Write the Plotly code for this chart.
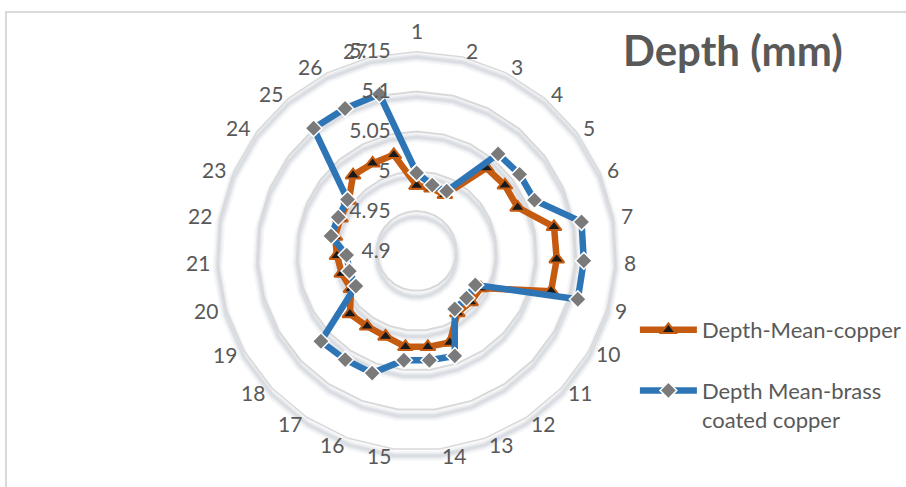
import math
import plotly.graph_objects as go

categories = [str(i) for i in range(1, 28)]
copper = [4.982, 4.981, 4.979, 5.036, 5.038, 5.038, 5.075, 5.076, 5.076,
          4.993, 4.993, 4.993, 5.022, 5.021, 5.021, 5.014, 5.013, 5.015,
          4.995, 4.998, 5.000, 5.004, 5.004, 5.006, 5.024, 5.023, 5.024]
brass = [4.998, 4.985, 4.984, 5.059, 5.061, 5.061, 5.110, 5.110, 5.111,
         4.985, 4.986, 4.987, 5.040, 5.038, 5.038, 5.063, 5.063, 5.065,
         4.988, 4.988, 4.988, 5.009, 5.007, 5.008, 5.101, 5.100, 5.102]
radial_ticks = [4.9, 4.95, 5.0, 5.05, 5.1, 5.15]
radial_text = ["4.9", "4.95", "5", "5.05", "5.1", "5.15"]
r_min, r_max = 4.9, 5.15

W, H = 906, 487
cx, cy, R = 418, 251, 200
LAB_R = 206  # distance of category-label anchor from the centre

ORANGE = "#C55A11"
BLUE = "#2E75B6"
GREY = "#595959"
FONT = "Lato"

fig = go.Figure()
fig.add_trace(go.Scatterpolar(
    r=copper + copper[:1], theta=categories + categories[:1],
    mode="lines+markers", name="Depth-Mean-copper", legendgroup="a",
    line=dict(color=ORANGE, width=6.5),
    marker=dict(symbol="triangle-up", size=13, color="#1a1a1a",
                line=dict(color=ORANGE, width=2)),
))
fig.add_trace(go.Scatterpolar(
    r=brass + brass[:1], theta=categories + categories[:1],
    mode="lines+markers", name="Depth Mean-brass<br>coated copper",
    legendgroup="b",
    line=dict(color=BLUE, width=6.5),
    marker=dict(symbol="diamond", size=13, color="#7a7a7a",
                line=dict(color="white", width=1.5)),
))


# soft drop-shadow under each grid ring (decoration derived from tick values)
def ring_path(v, dy):
    rr = (v - r_min) / (r_max - r_min) * R
    n = len(categories)
    pts = []
    for k in range(n):
        a = 2 * math.pi * k / n
        px = cx + rr * math.sin(a)
        py = cy - rr * math.cos(a) + dy
        pts.append((px / W, 1 - py / H))
    return "M " + " L ".join(f"{x:.5f},{y:.5f}" for x, y in pts) + " Z"


shapes = []
for v in radial_ticks[1:]:
    for width, alpha in [(10, 0.07), (6, 0.10), (3, 0.12)]:
        shapes.append(dict(type="path", xref="paper", yref="paper",
                           path=ring_path(v, 6), layer="below",
                           line=dict(color=f"rgba(120,130,150,{alpha})",
                                     width=width)))
shapes.append(dict(type="rect", xref="paper", yref="paper",
                   x0=6 / W, x1=1.01, y0=-0.01, y1=1 - 12 / H,
                   line=dict(color="#d9d9d9", width=2), layer="below"))

annotations = [dict(text="<b>Depth (mm)</b>", x=735 / W, y=1 - 50 / H,
                    xref="paper", yref="paper", showarrow=False,
                    xanchor="center", yanchor="middle",
                    font=dict(size=42, color=GREY, family=FONT))]
n = len(categories)
for k, lab in enumerate(categories):
    a = 2 * math.pi * k / n
    s, c = math.sin(a), math.cos(a)
    px = cx + LAB_R * s
    py = cy - LAB_R * c
    if abs(s) < 0.01:
        xa, ya = "center", ("bottom" if c > 0 else "top")
    else:
        xa, ya = ("left" if s > 0 else "right"), "middle"
    annotations.append(dict(text=lab, x=px / W, y=1 - py / H,
                            xref="paper", yref="paper", showarrow=False,
                            xanchor=xa, yanchor=ya,
                            font=dict(size=21, color=GREY, family=FONT)))

fig.update_layout(
    width=W, height=H,
    margin=dict(l=0, r=0, t=0, b=0),
    paper_bgcolor="white",
    font=dict(family=FONT, color=GREY),
    polar=dict(
        domain=dict(x=[(cx - R) / W, (cx + R) / W],
                    y=[1 - (cy + R) / H, 1 - (cy - R) / H]),
        bgcolor="rgba(0,0,0,0)",
        gridshape="linear",
        radialaxis=dict(range=[r_min, r_max], tickvals=radial_ticks,
                        ticktext=radial_text, angle=90, tickangle=90,
                        side="counterclockwise", showline=False,
                        gridcolor="#d9d9d9", gridwidth=1.5,
                        tickfont=dict(size=21, color=GREY, family=FONT),
                        ticks="outside", ticklen=18,
                        tickcolor="rgba(0,0,0,0)"),
        angularaxis=dict(rotation=90, direction="clockwise",
                         showline=True, linecolor="#d9d9d9", linewidth=1.5,
                         showgrid=False, ticks="", showticklabels=False),
    ),
    legend=dict(x=637 / W, y=1 - 309 / H, xanchor="left", yanchor="top",
                font=dict(size=22, color=GREY, family=FONT),
                itemwidth=57, valign="top", tracegroupgap=29,
                bgcolor="rgba(0,0,0,0)"),
    annotations=annotations,
    shapes=shapes,
)

fig.write_html("out.html", post_script="document.body.style.margin='0';",
               config={"displayModeBar": False})
